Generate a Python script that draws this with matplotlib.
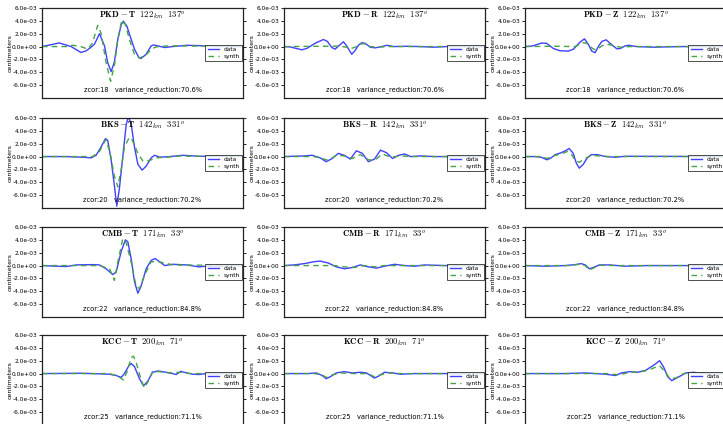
import matplotlib
matplotlib.use("Agg")
import matplotlib.pyplot as plt
from matplotlib.ticker import FormatStrFormatter
import numpy as np

plt.rcParams["mathtext.fontset"] = "cm"

# Station metadata (one row per station)
stations = ["PKD", "BKS", "CMB", "KCC"]
distances_km = [122, 142, 171, 200]
azimuths_deg = [137, 331, 33, 71]
zcor = [18, 20, 22, 25]
variance_reduction = [70.6, 70.2, 84.8, 71.1]
components = ["T", "R", "Z"]

# Waveform samples: time as % of window, amplitude in 1e-3 cm
PKD_T_data_t = [0, 8.6, 14.5, 19.4, 21.9, 24, 26.1, 28.6, 31.1, 32.7, 34.4, 36.0, 37.7, 39.4, 40.5, 42.2, 44.4, 46.0, 48.2, 49.3, 51.8, 54.3, 55.5, 57.6, 61, 65, 72, 78, 85, 100]
PKD_T_data_v = [0, 0.56, 0, -0.92, -0.67, -0.2, 0.36, 2.0, 0.1, -2.5, -3.9, -2.4, 1.1, 3.4, 3.95, 3.2, 1.1, -0.4, -1.7, -1.85, -1.2, 0.1, 0.26, 0.1, -0.15, 0, 0.2, 0.15, 0, 0]
PKD_T_syn_t = [0, 12, 15.3, 19.4, 22.8, 25.2, 27.7, 29.4, 31.9, 34.1, 36.0, 37.7, 39.7, 41.5, 43.5, 46.0, 48.5, 51.8, 54.3, 56.8, 62, 70, 100]
PKD_T_syn_v = [0, 0, 0.2, 0, -0.4, 0.6, 3.3, 2.1, -2.5, -5.4, -3.0, 1.1, 4.1, 3.4, 1.1, -1.2, -1.8, -1.3, -0.4, -0.05, 0.1, 0.1, 0]

PKD_R_data_t = [0, 3, 8.8, 11.3, 15.4, 19.6, 21.6, 23.8, 25.4, 27.9, 29.6, 31.2, 33.7, 35.4, 37, 38.7, 40.4, 42.9, 45.3, 48.7, 51.2, 54.5, 61, 67.8, 74.4, 81, 100]
PKD_R_data_v = [0, -0.05, -0.5, -0.3, 0.5, 1.1, 0.8, -0.15, -0.4, 0.3, 0.75, 0.1, -1.2, -0.6, 0.2, 0.6, 0.5, -0.1, -0.2, 0, 0.2, 0, 0.05, 0, -0.1, 0, 0]
PKD_R_syn_t = [0, 20, 27.9, 31.2, 32.9, 35.4, 37.9, 39.9, 42.9, 46, 52, 100]
PKD_R_syn_v = [0, 0.05, 0.05, -0.1, -0.35, -0.1, 0.4, 0.45, 0, -0.1, 0, 0]

PKD_Z_data_t = [0, 3.8, 8.3, 10.8, 14.1, 17.4, 21.6, 24.1, 27.4, 29.6, 31.6, 33.2, 34.9, 36.5, 38.2, 40.4, 42.7, 45.7, 47.4, 49.8, 51.5, 55.6, 64, 77, 100]
PKD_Z_data_v = [0, 0.1, 0.55, 0.5, -0.3, -0.65, -0.7, -0.4, 0.7, 1.2, 0.3, -0.7, -0.95, 0, 0.8, 1.05, 0.4, -0.35, -0.3, 0.1, 0.2, 0, -0.1, 0, 0]
PKD_Z_syn_t = [0, 15, 24.9, 29.1, 30.7, 34, 35.7, 38.2, 40.7, 43.2, 47.4, 52.3, 100]
PKD_Z_syn_v = [0, 0.05, 0, 0.6, 0.5, -0.4, -0.5, 0.1, 0.4, 0.2, -0.1, 0, 0]

BKS_T_data_t = [0, 12, 20.3, 24.4, 26.9, 29.4, 31.6, 32.7, 34.4, 36, 37.2, 38.5, 40.2, 41.9, 43, 44.4, 46, 47.7, 49.8, 51.8, 54.3, 56, 58.5, 63.5, 70, 78, 100]
BKS_T_data_v = [0, 0, -0.1, -0.2, 0.2, 1.5, 2.8, 2.5, -0.5, -4.5, -7.7, -5, 0, 5, 6.2, 5, 1.5, -1.2, -2.1, -1.5, -0.2, 0.2, -0.1, 0, 0.2, 0.05, 0]
BKS_T_syn_t = [0, 25.2, 28.6, 31.6, 33.6, 36, 37.7, 39.4, 41, 43.5, 45, 47.7, 50.2, 53.5, 56.8, 62, 68.8, 75, 100]
BKS_T_syn_v = [0, 0, 0.8, 2.6, 1, -3, -4.7, -2, 1.5, 3.0, 2.5, 0.5, -0.7, -0.6, -0.2, -0.1, 0.1, 0.05, 0]

BKS_R_data_t = [0, 10, 14, 18, 21, 24, 27, 30, 33, 36, 39, 42, 45, 48, 51, 54, 57, 60, 63, 68, 75, 100]
BKS_R_data_v = [0, 0.1, 0.2, -0.2, -0.8, -0.3, 0.5, 0.2, -0.4, 0.9, 0.5, -0.8, -0.4, 1.0, 0.6, -0.3, 0.2, 0.4, 0, 0.1, 0, 0]
BKS_R_syn_t = [0, 15, 19, 22, 26, 30, 34, 38, 42, 45, 49, 53, 58, 65, 100]
BKS_R_syn_v = [0, 0, -0.3, -0.6, 0.2, 0.1, -0.3, 0.3, -0.5, -0.6, 0.4, -0.1, 0.1, 0, 0]

BKS_Z_data_t = [0, 5, 8, 11, 13, 15, 18, 20, 22, 24, 25.5, 27, 29, 31, 33, 36, 40, 45, 50, 100]
BKS_Z_data_v = [0, 0, -0.1, -0.5, -0.2, 0.3, 0.6, 0.9, 1.25, 0.5, -1.0, -1.8, -1.2, -0.2, 0.3, 0.3, 0.0, -0.1, 0.05, 0]
BKS_Z_syn_t = [0, 8, 11, 14, 18, 21, 23, 25, 27, 30, 33, 37, 42, 100]
BKS_Z_syn_v = [0, 0, -0.3, 0.1, 0.4, 0.8, 0.4, -0.6, -0.9, -0.3, 0.2, 0.1, 0, 0]

CMB_T_data_t = [0, 7, 12, 17, 25.2, 28.6, 31.9, 35.2, 36.9, 39.4, 41.5, 42.7, 44.4, 46, 47.7, 49.3, 51.8, 54.3, 56.3, 58.5, 61, 65, 72, 78, 81.7, 100]
CMB_T_data_v = [0, -0.1, -0.15, 0.1, 0.15, 0.1, -0.5, -1.4, -1.0, 2.2, 4.0, 3.7, 1.0, -2.5, -4.3, -3.2, -0.5, 0.8, 1.1, 0.6, 0, 0.2, 0.1, -0.2, -0.1, 0]
CMB_T_syn_t = [0, 28.6, 33.6, 36, 37.7, 40.2, 41.9, 44.4, 46.8, 48.5, 51, 54.3, 57.6, 61, 65, 100]
CMB_T_syn_v = [0, 0, -0.5, -2.3, 0.5, 4.2, 3.5, 0.5, -3.2, -3.6, -1.5, 0.6, 0.6, 0.4, 0.1, 0]

CMB_R_data_t = [0, 5, 10, 15, 18, 22, 26, 30, 34, 38, 42, 46, 50, 55, 60, 65, 70, 80, 100]
CMB_R_data_v = [0, 0.1, 0.3, 0.6, 0.7, 0.4, -0.2, -0.5, -0.3, 0.1, -0.2, -0.4, -0.1, 0.2, 0, -0.1, 0.1, 0, 0]
CMB_R_syn_t = [0, 25, 30, 35, 40, 45, 50, 100]
CMB_R_syn_v = [0, 0, -0.2, -0.3, 0, -0.2, 0, 0]

CMB_Z_data_t = [0, 10, 20, 25, 28, 30, 32, 34, 37, 42, 50, 60, 100]
CMB_Z_data_v = [0, -0.1, 0, 0.15, 0.3, 0.1, -0.5, -0.3, 0.1, 0.1, -0.1, 0, 0]
CMB_Z_syn_t = [0, 22, 27, 30, 32, 34, 37, 45, 100]
CMB_Z_syn_v = [0, 0, 0.2, 0, -0.7, -0.4, 0.05, 0, 0]

KCC_T_data_t = [0, 20, 33.6, 36.9, 39.4, 41, 43.2, 44.4, 46, 48.5, 50.5, 52.6, 55, 57.6, 60, 63.5, 66.8, 69, 72, 75, 78, 81.7, 100]
KCC_T_data_v = [0, 0.05, -0.1, -0.3, -0.6, 0, 1.2, 1.55, 1.1, -0.8, -1.9, -1.2, 0.2, 0.4, 0.3, 0.1, -0.15, 0.35, 0.1, -0.1, -0.15, 0, 0]
KCC_T_syn_t = [0, 33.6, 37.7, 40.5, 42.2, 44.4, 45.5, 46.8, 49.3, 51, 52.6, 55, 58.5, 63.5, 68.8, 73.6, 100]
KCC_T_syn_v = [0, 0, -0.4, -1.0, 0.2, 2.5, 2.7, 1.8, -1.0, -2.2, -1.3, 0.3, 0.3, 0.1, 0.2, 0, 0]

KCC_R_data_t = [0, 12, 16, 19, 21, 23, 26, 30, 34, 38, 41, 43, 45, 47, 50, 54, 58, 65, 100]
KCC_R_data_v = [0, 0, 0.1, -0.3, -0.8, -0.5, 0.1, 0.3, 0.1, 0.2, 0.1, -0.3, -0.7, -0.4, 0.2, 0.1, -0.1, 0, 0]
KCC_R_syn_t = [0, 15, 19, 21, 24, 28, 35, 40, 43, 45, 48, 52, 58, 100]
KCC_R_syn_v = [0, 0, -0.2, -0.6, -0.2, 0.1, 0, 0, -0.2, -0.5, -0.2, 0.1, 0, 0]

KCC_Z_data_t = [0, 20, 30, 40, 45, 48, 52, 56, 60, 64, 67, 69, 71, 73, 76, 80, 84, 88, 100]
KCC_Z_data_v = [0, 0, 0.1, -0.1, -0.3, 0.1, 0.3, 0.2, 0.5, 1.3, 2.0, 1.0, -0.5, -1.1, -0.6, 0.1, 0.2, 0, 0]
KCC_Z_syn_t = [0, 40, 47, 52, 58, 62, 65, 67, 70, 72, 75, 79, 85, 100]
KCC_Z_syn_v = [0, 0, -0.2, 0.2, 0.3, 0.6, 1.0, 1.2, 0.2, -0.8, -0.7, 0, 0.1, 0]

traces = {
    ("PKD", "T"): (PKD_T_data_t, PKD_T_data_v, PKD_T_syn_t, PKD_T_syn_v),
    ("PKD", "R"): (PKD_R_data_t, PKD_R_data_v, PKD_R_syn_t, PKD_R_syn_v),
    ("PKD", "Z"): (PKD_Z_data_t, PKD_Z_data_v, PKD_Z_syn_t, PKD_Z_syn_v),
    ("BKS", "T"): (BKS_T_data_t, BKS_T_data_v, BKS_T_syn_t, BKS_T_syn_v),
    ("BKS", "R"): (BKS_R_data_t, BKS_R_data_v, BKS_R_syn_t, BKS_R_syn_v),
    ("BKS", "Z"): (BKS_Z_data_t, BKS_Z_data_v, BKS_Z_syn_t, BKS_Z_syn_v),
    ("CMB", "T"): (CMB_T_data_t, CMB_T_data_v, CMB_T_syn_t, CMB_T_syn_v),
    ("CMB", "R"): (CMB_R_data_t, CMB_R_data_v, CMB_R_syn_t, CMB_R_syn_v),
    ("CMB", "Z"): (CMB_Z_data_t, CMB_Z_data_v, CMB_Z_syn_t, CMB_Z_syn_v),
    ("KCC", "T"): (KCC_T_data_t, KCC_T_data_v, KCC_T_syn_t, KCC_T_syn_v),
    ("KCC", "R"): (KCC_R_data_t, KCC_R_data_v, KCC_R_syn_t, KCC_R_syn_v),
    ("KCC", "Z"): (KCC_Z_data_t, KCC_Z_data_v, KCC_Z_syn_t, KCC_Z_syn_v),
}

W, H = 723, 424
fig = plt.figure(figsize=(W / 100, H / 100), dpi=100)

col_left_px = [42, 284, 525]
row_top_px = [8, 118, 227, 335]
ax_w_px, ax_h_px = 201, 90

for i, sta in enumerate(stations):
    for j, comp in enumerate(components):
        left = col_left_px[j] / W
        bottom = 1 - (row_top_px[i] + ax_h_px) / H
        ax = fig.add_axes([left, bottom, ax_w_px / W, ax_h_px / H])
        dt, dv, st, sv = traces[(sta, comp)]
        ax.plot(dt, np.array(dv) * 1e-3, color="#4040ff", lw=1.0, label="data")
        ax.plot(st, np.array(sv) * 1e-3, color="#44a444", lw=1.0, ls="--",
                dashes=(4, 3), label="synth")
        ax.set_xlim(0, 100)
        ax.set_ylim(-8e-3, 6e-3)
        ax.set_yticks(np.arange(-6e-3, 6.1e-3, 2e-3))
        ax.yaxis.set_major_formatter(FormatStrFormatter("%.1e"))
        ax.set_xticks([])
        ax.tick_params(axis="y", labelsize=4.2, length=2, width=0.6,
                       direction="out", pad=1.5, right=True)
        for sp in ax.spines.values():
            sp.set_linewidth(0.9)
            sp.set_color("#222222")
        ax.set_ylabel("centimeters", fontsize=4.5)
        ax.yaxis.set_label_coords(-0.145, 0.5)
        title = (r"$\mathbf{%s-%s}\ \ %d_{km}\ \ %d^o$"
                 % (sta, comp, distances_km[i], azimuths_deg[i]))
        ax.text(0.5, 0.915, title, transform=ax.transAxes, ha="center",
                va="center", fontsize=6.3)
        ax.text(0.5, 0.09,
                "zcor:%d   variance_reduction:%.1f%%" % (zcor[i], variance_reduction[i]),
                transform=ax.transAxes, ha="center", va="center", fontsize=4.8)
        leg = ax.legend(loc="center right", fontsize=4.2, frameon=True,
                        fancybox=False, borderpad=0.4, handlelength=2.0,
                        labelspacing=0.3, borderaxespad=0.1)
        leg.get_frame().set_edgecolor("#222222")
        leg.get_frame().set_linewidth(0.7)

fig.savefig("out.png", dpi=100)
